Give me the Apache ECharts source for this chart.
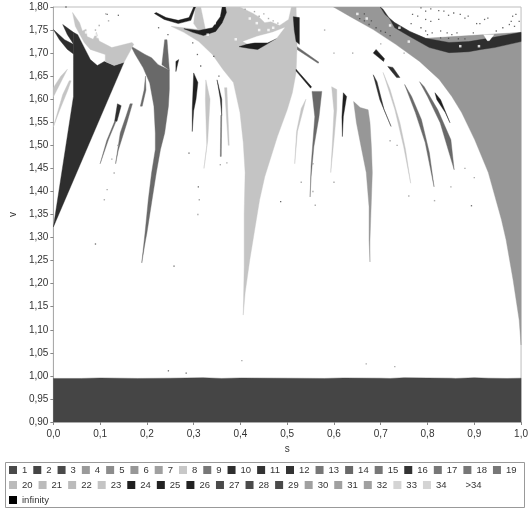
<!DOCTYPE html>
<html><head><meta charset="utf-8">
<style>html,body{margin:0;padding:0;background:#fff}#c{width:531px;height:509px}</style>
<script src="https://cdn.jsdelivr.net/npm/echarts@6/dist/echarts.min.js"></script></head>
<body><div id="c"></div>
<script>
const classNames = ['1','2','3','4','5','6','7','8','9','10','11','12','13','14','15','16','17','18','19','20','21','22','23','24','25','26','27','28','29','30','31','32','33','34','>34','infinity'];
const classColors = ['#4a4a4a','#454545','#4a4a4a','#9a9a9a','#8c8c8c','#979797','#a0a0a0','#c8c8c8','#777777','#2e2e2e','#333333','#333333','#777777','#696969','#777777','#333333','#777777','#777777','#777777','#bbbbbb','#bbbbbb','#bbbbbb','#c4c4c4','#1f1f1f','#222222','#222222','#4a4a4a','#4a4a4a','#4a4a4a','#a0a0a0','#a0a0a0','#a0a0a0','#d4d4d4','#d4d4d4','#ffffff','#000000'];

// regions as [s, v] outlines
const floorBand = [[0,.9],[1,.9],[1,.995],[.97,.9945],[.93,.995],[.9,.996],[.86,.9945],[.85,.995],[.75,.996],[.72,.9945],[.7,.995],[.62,.9955],[.58,.9945],[.5,.995],[.4,.9955],[.36,.9945],[.32,.996],[.25,.995],[.18,.9945],[.1,.9955],[.06,.9945],[0,.9945]];
const leftTriangle = [[0,1.323],[.043,1.606],[.043,1.745],[.052,1.74],[.068,1.708],[.079,1.686],[.094,1.673],[.109,1.682],[.13,1.673],[.151,1.68]];
const leftWedge = [[0,1.751],[.024,1.729],[.043,1.719],[.043,1.698],[.03,1.708],[.013,1.729]];
const leftHorn = [[.02,1.762],[.043,1.745],[.043,1.72],[.03,1.74]];
const topLeftCap = [[.041,1.788],[.056,1.766],[.062,1.748],[.07,1.752],[.072,1.736],[.085,1.73],[.092,1.745],[.098,1.726],[.125,1.712],[.168,1.723],[.172,1.719],[.151,1.68],[.13,1.673],[.111,1.682],[.111,1.697],[.079,1.708],[.066,1.723],[.047,1.758]];
const leftSliverA = [[0,1.625],[.016,1.65],[.03,1.665],[.01,1.625],[0,1.605]];
const leftSliverB = [[.038,1.64],[.031,1.62],[.013,1.575],[0,1.54],[.02,1.61],[.034,1.64]];
const greyFan = [[.166,1.715],[.178,1.708],[.196,1.697],[.21,1.69],[.224,1.675],[.238,1.668],[.248,1.663],[.248,1.621],[.246,1.585],[.238,1.527],[.229,1.491],[.22,1.44],[.211,1.382],[.2,1.31],[.196,1.288],[.189,1.245],[.196,1.31],[.203,1.382],[.21,1.44],[.218,1.491],[.218,1.527],[.215,1.585],[.206,1.635],[.192,1.668],[.175,1.697]];
const greySpikeA = [[.197,1.65],[.198,1.62],[.19,1.585],[.186,1.585],[.194,1.62]];
const greySpikeB = [[.164,1.59],[.169,1.59],[.157,1.548],[.139,1.49],[.133,1.46],[.143,1.527],[.156,1.565]];
const darkSliver = [[.137,1.59],[.145,1.586],[.136,1.552],[.131,1.552]];
const thinSliver = [[.131,1.552],[.134,1.552],[.118,1.513],[.1,1.46],[.114,1.51]];
const greyTuft = [[.238,1.729],[.243,1.729],[.248,1.663],[.232,1.675]];
const inkFleck = [[.262,1.682],[.268,1.686],[.262,1.66]];
const inkStripe = [[.3,1.657],[.309,1.636],[.305,1.6],[.3,1.575],[.297,1.53],[.297,1.58],[.299,1.63]];
const greyStripe = [[.326,1.642],[.335,1.6],[.33,1.51],[.322,1.45],[.328,1.5],[.325,1.6]];
const inkStripeB = [[.35,1.642],[.36,1.6],[.36,1.565],[.357,1.6]];
const greyThread = [[.358,1.565],[.36,1.565],[.359,1.476],[.357,1.476]];
const paleStripe = [[.366,1.625],[.371,1.625],[.376,1.5],[.374,1.5]];
const centreMass = [[.252,1.758],[.279,1.745],[.311,1.725],[.34,1.697],[.363,1.664],[.385,1.636],[.399,1.571],[.406,1.506],[.41,1.441],[.408,1.354],[.408,1.237],[.406,1.132],[.41,1.18],[.42,1.252],[.435,1.345],[.441,1.382],[.452,1.432],[.479,1.519],[.5,1.577],[.511,1.614],[.519,1.658],[.521,1.714],[.519,1.8],[.509,1.8],[.503,1.773],[.484,1.76],[.465,1.768],[.452,1.766],[.44,1.778],[.427,1.786],[.399,1.8],[.368,1.8],[.363,1.769],[.342,1.747],[.326,1.747],[.315,1.8],[.304,1.8],[.3,1.764],[.309,1.751],[.279,1.755]];
const topArc = [[.216,1.786],[.237,1.773],[.267,1.764],[.294,1.771],[.304,1.8],[.3,1.8],[.29,1.777],[.267,1.771],[.241,1.777],[.22,1.788]];
const crescent = [[.368,1.8],[.37,1.788],[.361,1.766],[.347,1.747],[.321,1.738],[.298,1.745],[.279,1.753],[.311,1.749],[.34,1.755],[.357,1.779],[.361,1.8]];
const lensShadow = [[.397,1.714],[.414,1.719],[.431,1.723],[.458,1.723],[.477,1.732],[.456,1.719],[.437,1.708],[.42,1.71]];
const lensLight = [[.406,1.725],[.435,1.736],[.469,1.745],[.494,1.755],[.477,1.732],[.458,1.723],[.431,1.723],[.414,1.721]];
const rightRegion = [[.599,1.8],[.635,1.779],[.684,1.751],[.732,1.719],[.783,1.682],[.825,1.643],[.852,1.606],[.873,1.571],[.901,1.512],[.93,1.441],[.958,1.339],[.968,1.295],[.983,1.208],[.996,1.121],[1,1.067],[1,1.745],[.796,1.732],[.762,1.747],[.73,1.766],[.709,1.784],[.699,1.8]];
const rightBand = [[.699,1.8],[.709,1.784],[.73,1.766],[.762,1.747],[.796,1.732],[.846,1.723],[.888,1.725],[.93,1.732],[1,1.745],[1,1.725],[.943,1.712],[.915,1.708],[.888,1.703],[.846,1.701],[.804,1.712],[.762,1.736],[.73,1.755],[.72,1.773],[.705,1.795]];
const bandNotch = [[.92,1.74],[.928,1.727],[.932,1.727],[.942,1.74]];
const postStripe = [[.513,1.779],[.526,1.777],[.526,1.719],[.519,1.725],[.515,1.751]];
const diagonalLine = [[.521,1.714],[.568,1.68],[.566,1.678],[.521,1.708]];
const diagonalLineB = [[.519,1.665],[.552,1.627],[.55,1.624],[.519,1.661]];
const darkSpike = [[.553,1.617],[.574,1.617],[.568,1.562],[.557,1.497],[.551,1.432],[.549,1.388],[.551,1.454],[.559,1.562]];
const sliverNearSpike = [[.54,1.6],[.535,1.58],[.522,1.53],[.516,1.46],[.52,1.53],[.53,1.58]];
const paleSpike = [[.595,1.627],[.606,1.621],[.606,1.578],[.6,1.512],[.593,1.441],[.597,1.512],[.6,1.575]];
const inkSpike = [[.62,1.614],[.627,1.606],[.62,1.562],[.618,1.519],[.617,1.562]];
const midSpike = [[.642,1.595],[.656,1.582],[.673,1.577],[.677,1.549],[.68,1.497],[.682,1.441],[.68,1.382],[.677,1.295],[.677,1.247],[.675,1.295],[.675,1.367],[.669,1.441],[.658,1.497],[.648,1.549]];
const darkRayA = [[.684,1.653],[.692,1.638],[.707,1.578],[.722,1.541],[.698,1.599]];
const paleRayA = [[.705,1.658],[.72,1.621],[.741,1.549],[.753,1.491],[.764,1.418],[.749,1.497],[.73,1.578]];
const darkRayB = [[.715,1.671],[.726,1.669],[.741,1.647],[.734,1.647],[.722,1.662]];
const darkRayC = [[.69,1.708],[.708,1.688],[.706,1.682],[.684,1.7]];
const greyRayA = [[.751,1.632],[.766,1.606],[.787,1.556],[.804,1.484],[.814,1.41],[.795,1.506],[.774,1.571]];
const greyRayB = [[.783,1.638],[.793,1.627],[.822,1.577],[.85,1.512],[.857,1.447],[.827,1.549],[.8,1.606]];
const darkRayD = [[.816,1.614],[.828,1.599],[.848,1.549],[.838,1.571],[.82,1.599]];

const regionsByClass = {
  2:[floorBand],
  6:[rightRegion, midSpike],
  10:[leftTriangle, leftWedge, leftHorn, rightBand, darkRayA, darkRayB, darkSliver],
  14:[greyFan, greySpikeA, greySpikeB, greyTuft, darkSpike, greyRayA, greyRayB, diagonalLine, thinSliver, greyThread],
  23:[centreMass, topLeftCap, leftSliverA, leftSliverB, greyStripe, paleStripe, paleSpike, paleRayA, sliverNearSpike],
  24:[topArc, crescent, lensShadow, inkFleck, inkStripe, inkStripeB, postStripe, diagonalLineB, inkSpike, darkRayC, darkRayD],
  35:[lensLight, bandNotch]
};
// isolated specks
const darkSpecks = [[.246,1.011],[.284,1.006],[.09,1.286],[.258,1.238],[.894,1.369],[.486,1.378],[.786,1.798],[.796,1.791],[.807,1.796],[.824,1.792],[.835,1.791],[.845,1.782],[.856,1.787],[.87,1.784],[.88,1.776],[.887,1.78],[.922,1.773],[.929,1.776],[.982,1.78],[.989,1.784],[.996,1.769],[.979,1.769],[.986,1.758],[.768,1.784],[.779,1.78],[.796,1.773],[.807,1.769],[.824,1.773],[.765,1.764],[.786,1.755],[.796,1.748],[.81,1.744],[.828,1.748],[.842,1.744],[.898,1.744],[.947,1.748],[.961,1.755],[.975,1.762],[.8,1.74],[.828,1.733],[.845,1.732],[.905,1.764],[.912,1.764],[.866,1.731],[.88,1.731],[.852,1.74],[.863,1.744],[.298,1.722],[.308,1.697],[.315,1.672],[.343,1.693],[.354,1.65],[.139,1.782],[.115,1.784],[.027,1.8],[.29,1.483],[.245,1.74],[.225,1.755],[.31,1.41],[.655,1.775],[.665,1.77],[.675,1.762],[.69,1.755],[.7,1.748],[.71,1.745],[.72,1.738],[.665,1.785],[.68,1.77]];
const greySpecks = [[.669,1.026],[.73,1.02],[.403,1.033],[.109,1.382],[.115,1.404],[.309,1.35],[.312,1.382],[.357,1.458],[.371,1.462],[.125,1.47],[.13,1.44],[.138,1.5],[.56,1.37],[.555,1.4],[.6,1.42],[.76,1.39],[.815,1.38],[.85,1.41],[.88,1.45],[.9,1.43],[.555,1.46],[.53,1.42],[.72,1.51],[.735,1.5],[.43,1.79],[.44,1.78],[.46,1.775],[.47,1.77],[.48,1.765],[.58,1.75],[.6,1.7],[.64,1.7],[.7,1.72],[.75,1.7],[.112,1.785],[.118,1.77],[.09,1.75],[.098,1.76],[.45,1.785],[.41,1.795]];
const whiteSpecks = [[.08,1.75],[.09,1.74],[.095,1.735],[.11,1.745],[.125,1.73],[.07,1.745],[.345,1.765],[.33,1.74],[.39,1.73],[.44,1.75],[.46,1.75],[.72,1.76],[.74,1.755],[.76,1.725],[.87,1.715],[.91,1.715],[.42,1.775],[.435,1.765],[.47,1.755],[.49,1.775],[.65,1.785],[.67,1.775]];

const series = classNames.map((name,i)=>{
  const shapes = regionsByClass[i+1] || [];
  return {
    type:'custom', name, coordinateSystem:'cartesian2d', clip:true, silent:true,
    itemStyle:{color:classColors[i]},
    data:shapes.map((p,k)=>[k]),
    renderItem:(params,api)=>({
      type:'polygon', silent:true,
      shape:{points:shapes[params.dataIndex].map(p=>api.coord(p))},
      style:{fill:classColors[i], stroke:classColors[i], lineWidth:.4}
    })
  };
});
const speck = (name,data,color,size)=>({type:'scatter',name,data,symbol:'rect',symbolSize:size,silent:true,itemStyle:{color},clip:true});
series.push(speck('24',darkSpecks,'#444444',1.3));
series.push(speck('8',greySpecks,'#999999',1.4));
series.push(speck('>34',whiteSpecks,'#ffffff',2.5));

const fmtX = v=>v.toFixed(1).replace('.',',');
const fmtY = v=>v.toFixed(2).replace('.',',');
const axisCommon = {
  nameLocation:'middle',
  nameTextStyle:{fontFamily:'Liberation Sans',fontSize:10,color:'#333'},
  axisLine:{show:true,lineStyle:{color:'#aaaaaa',width:1}},
  axisTick:{show:true,length:3,lineStyle:{color:'#888888'}},
  splitLine:{show:false}
};
const legendRow = (data,top)=>({type:'plain',data,left:9,top,width:520,padding:0,itemWidth:8,itemHeight:8,itemGap:6,icon:'rect',selectedMode:false,
  textStyle:{fontFamily:'Liberation Sans',fontSize:9.5,color:'#333'}});
const chart = echarts.init(document.getElementById('c'),null,{renderer:'canvas'});
chart.setOption({
  animation:false,
  backgroundColor:'#ffffff',
  grid:{left:50,right:6,top:7,bottom:87,show:true,borderColor:'#bdbdbd',borderWidth:1,backgroundColor:'#ffffff'},
  xAxis:Object.assign({},axisCommon,{type:'value',name:'s',min:0,max:1,interval:.1,nameGap:22,
    axisLabel:{formatter:fmtX,fontFamily:'Liberation Sans',fontSize:10,color:'#333',margin:7,hideOverlap:false}}),
  yAxis:Object.assign({},axisCommon,{type:'value',name:'v',min:.9,max:1.8,interval:.05,nameGap:30,
    axisLabel:{formatter:fmtY,fontFamily:'Liberation Sans',fontSize:10,color:'#333',margin:5,hideOverlap:false}}),
  legend:[legendRow(classNames.slice(0,19),465),legendRow(classNames.slice(19,35),480),legendRow(classNames.slice(35),495)],
  graphic:[{type:'rect',silent:true,shape:{x:5.5,y:462.5,width:519,height:45},style:{fill:'none',stroke:'#999999',lineWidth:1}}],
  series
});
</script></body></html>
